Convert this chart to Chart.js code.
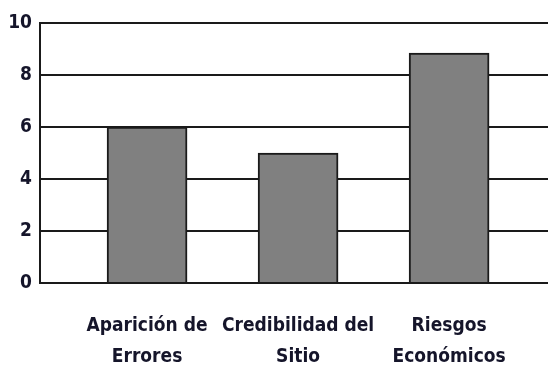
<!DOCTYPE html>
<html>
<head>
<meta charset="utf-8">
<script src="https://cdn.jsdelivr.net/npm/chart.js@4/dist/chart.umd.min.js"></script>
<style>
  html, body { margin: 0; padding: 0; background: #fff; }
  #wrap { width: 548px; height: 368px; }
</style>
</head>
<body>
<div id="wrap"><canvas id="myChart" width="548" height="368"></canvas></div>
<script>
const categories = [
  ["Aparición de", "Errores"],
  ["Credibilidad del", "Sitio"],
  ["Riesgos", "Económicos"]
];
const values = [6, 5, 8.85];
const yTicks = [0, 2, 4, 6, 8, 10];

// narrow bold face; "condensed" goes into the canvas font shorthand
const labelFont = {
  family: "'DejaVu Sans', sans-serif",
  size: 19,
  weight: "bold condensed",
  lineHeight: 1.6
};
const inkColor = "#15152a";

// bars sit at x = 1, 2, 3 on a linear axis so the left margin can be wider than the gaps
const points = values.map((v, i) => ({ x: i + 1, y: v }));

function configureGraphic() {
  return {
    type: "bar",
    data: {
      datasets: [
        {
          data: points,
          backgroundColor: "#808080",
          borderColor: "#1a1a1a",
          borderWidth: 2,
          barThickness: 80
        }
      ]
    },
    options: {
      responsive: false,
      animation: false,
      layout: { padding: { top: 23, right: 0, bottom: 0, left: 0 } },
      plugins: { legend: { display: false }, tooltip: { enabled: false } },
      scales: {
        x: {
          type: "linear",
          offset: false,
          min: 0.291,
          max: 3.655,
          afterBuildTicks: (scale) => {
            scale.ticks = categories.map((c, i) => ({ value: i + 1 }));
          },
          afterFit: (scale) => { scale.height = 85; },
          grid: { display: false, drawTicks: false },
          border: { display: true, color: "#1a1a1a", width: 2 },
          ticks: {
            autoSkip: false,
            maxRotation: 0,
            padding: 28,
            color: inkColor,
            font: labelFont,
            callback: (value) => categories[value - 1] || ""
          }
        },
        y: {
          min: 0,
          max: 10,
          afterBuildTicks: (scale) => {
            scale.ticks = yTicks.map((v) => ({ value: v }));
          },
          afterFit: (scale) => { scale.width = 40; },
          grid: { color: "#1a1a1a", lineWidth: 2, drawTicks: false },
          border: { display: true, color: "#1a1a1a", width: 2 },
          ticks: {
            padding: 8,
            color: inkColor,
            font: labelFont
          }
        }
      }
    }
  };
}

const chartDOM = document.getElementById("myChart");
const chart = new Chart(chartDOM, configureGraphic());
</script>
</body>
</html>
